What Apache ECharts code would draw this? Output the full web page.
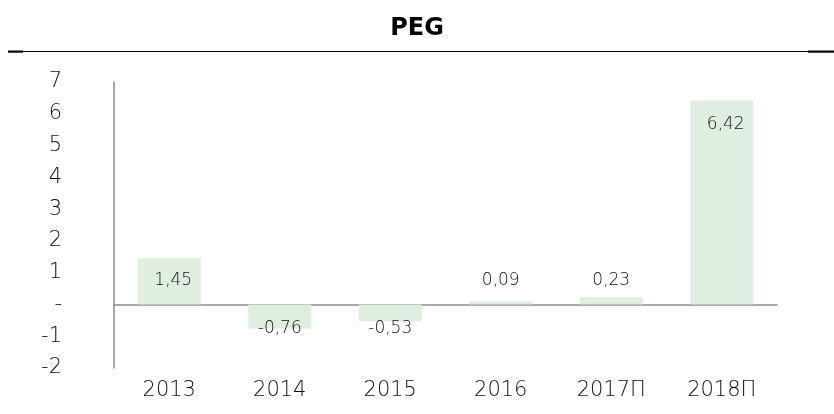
<!DOCTYPE html>
<html><head><meta charset="utf-8">
<script src="https://cdn.jsdelivr.net/npm/echarts@6/dist/echarts.min.js"></script>
<style>html,body{margin:0;padding:0;background:#fff}#c{width:834px;height:414px}</style>
</head><body><div id="c"></div>
<script>
const categories = ['2013','2014','2015','2016','2017П','2018П'];
const pegValues = [1.45, -0.76, -0.53, 0.09, 0.23, 6.42];
const yTicks = [-2,-1,0,1,2,3,4,5,6,7];

const fmt = v => v.toFixed(2).replace('.', ',');
const font = '"DejaVu Sans", sans-serif';

const data = pegValues.map(v => {
  let label;
  if (v < 0) label = {position: 'insideTop', distance: 16};
  else if (v < 3) label = {position: 'insideBottom', distance: 15, offset: [v > 1 ? 4 : 0, 0]};
  else label = {position: 'insideTop', distance: 16, offset: [4, 0]};
  return {value: v, label};
});

const chart = echarts.init(document.getElementById('c'));
chart.setOption({
  animation: false,
  title: {text: 'PEG', left: 'center', top: 12,
    textStyle: {fontFamily: font, fontWeight: 'bold', fontSize: 24, color: '#000'}},
  graphic: [
    {type: 'line', shape: {x1: 8, y1: 51.5, x2: 834, y2: 51.5}, style: {stroke: '#000', lineWidth: 1.2}},
    {type: 'rect', shape: {x: 8, y: 50.5, width: 15, height: 2.2}, style: {fill: '#000'}},
    {type: 'rect', shape: {x: 808, y: 50.5, width: 26, height: 2.2}, style: {fill: '#000'}}
  ],
  grid: {left: 114, right: 57, top: 82, bottom: 46},
  xAxis: [
    {type: 'category', data: categories, axisLine: {onZero: true, lineStyle: {color: '#8c8c8c', width: 1.5}},
     axisTick: {show: false}, axisLabel: {show: false}},
    {type: 'category', data: categories, position: 'bottom', axisLine: {show: false, onZero: false},
     axisTick: {show: false},
     axisLabel: {fontFamily: font, fontWeight: 200, fontSize: 21, color: '#111', margin: 12}}
  ],
  yAxis: {type: 'value', min: yTicks[0], max: yTicks[yTicks.length-1], interval: 1,
    splitLine: {show: false}, axisTick: {show: false},
    axisLine: {show: true, lineStyle: {color: '#8c8c8c', width: 1.5}},
    axisLabel: {fontFamily: font, fontWeight: 200, fontSize: 21, color: '#111', margin: 52, align: 'right',
      formatter: v => v === 0 ? '-' : String(v)}},
  series: [{type: 'bar', xAxisIndex: 0, data, barWidth: 63,
    itemStyle: {color: '#dfeee0'},
    label: {show: true, formatter: p => fmt(p.value), fontFamily: font, fontWeight: 200, fontSize: 17, color: '#111'}}]
});
</script></body></html>
